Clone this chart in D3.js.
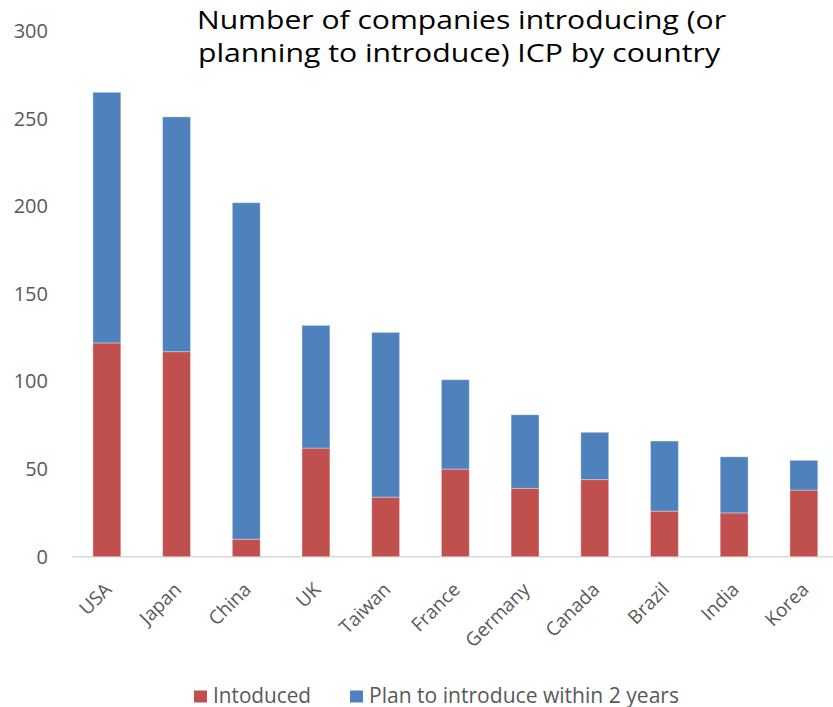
<!DOCTYPE html>
<html>
<head>
<meta charset="utf-8">
<script src="https://cdn.jsdelivr.net/npm/d3@7/dist/d3.min.js"></script>
<style>
  html, body { margin: 0; padding: 0; background: #fff; }
  svg { display: block; font-family: "Open Sans", "Noto Sans", sans-serif; }
</style>
</head>
<body>
<svg id="chart" width="833" height="707"></svg>
<script>
// Countries, in the order shown along the x axis
const categories = ["USA", "Japan", "China", "UK", "Taiwan", "France", "Germany", "Canada", "Brazil", "India", "Korea"];
// Companies that have already introduced ICP
const introduced = [122, 117, 10, 62, 34, 50, 39, 44, 26, 25, 38];
// Companies planning to introduce ICP within 2 years
const planToIntroduce = [143, 134, 192, 70, 94, 51, 42, 27, 40, 32, 17];
// Value axis ticks
const yTicks = [0, 50, 100, 150, 200, 250, 300];
// Series names
const seriesNames = ["Intoduced", "Plan to introduce within 2 years"];
const seriesColors = ["#C0504D", "#4F81BD"];
const titleLines = ["Number of companies introducing (or", "planning to introduce) ICP by country"];

const svg = d3.select("#chart");
const textColor = "#595959";

const x0 = 72, step = 69.7;
const x = d3.scaleBand()
  .domain(categories)
  .range([x0, x0 + step * categories.length])
  .paddingInner(0.6)
  .paddingOuter(0.3);

const y = d3.scaleLinear().domain([0, 300]).range([556.7, 31]);

// Stack the two series
const rows = categories.map((c, i) => ({ country: c, introduced: introduced[i], plan: planToIntroduce[i] }));
const stack = d3.stack().keys(["introduced", "plan"]);
const layers = stack(rows);

// Axis baseline
svg.append("line")
  .attr("x1", x0).attr("x2", 833)
  .attr("y1", y(0)).attr("y2", y(0))
  .attr("stroke", "#D9D9D9").attr("stroke-width", 1.5);

// Bars
svg.append("g").selectAll("g")
  .data(layers)
  .join("g")
  .attr("fill", (d, i) => seriesColors[i])
  .selectAll("rect")
  .data(d => d)
  .join("rect")
  .attr("x", d => x(d.data.country))
  .attr("width", x.bandwidth())
  .attr("y", d => y(d[1]))
  .attr("height", d => y(d[0]) - y(d[1]))
  .attr("stroke", "rgba(255,255,255,0.35)")
  .attr("stroke-width", 1);

// Value axis (left)
const yAxis = svg.append("g")
  .attr("transform", "translate(57,0)")
  .call(d3.axisLeft(y).tickValues(yTicks).tickSize(0).tickPadding(9));
yAxis.select(".domain").remove();
yAxis.selectAll("text")
  .attr("fill", textColor)
  .style("font-size", "20px")
  .style("font-family", "'Open Sans', sans-serif");

// Category axis (bottom) with rotated labels
const xAxis = svg.append("g")
  .attr("transform", `translate(0,${y(0)})`)
  .call(d3.axisBottom(x).tickSize(0));
xAxis.select(".domain").remove();
xAxis.selectAll("text")
  .attr("fill", textColor)
  .style("font-size", "19px")
  .style("font-family", "'Open Sans', sans-serif")
  .attr("text-anchor", "end")
  .attr("dy", null)
  .attr("y", 0)
  .attr("transform", "translate(6,34) rotate(-45)");

// Title, fitted to its line widths
const titleStarts = [197, 198];
const titleWidths = [529, 522];
const titleBaselines = [29, 62];
titleLines.forEach((t, i) => {
  svg.append("text")
    .attr("x", titleStarts[i]).attr("y", titleBaselines[i])
    .attr("fill", "#000")
    .attr("textLength", titleWidths[i])
    .attr("lengthAdjust", "spacingAndGlyphs")
    .style("font-size", "25.5px")
    .text(t);
});

// Legend
const legend = svg.append("g");
const legendX = [194, 350];
const legendTextW = [98, 310];
seriesNames.forEach((name, i) => {
  legend.append("rect")
    .attr("x", legendX[i]).attr("y", 690.5)
    .attr("width", 13).attr("height", 12)
    .attr("fill", seriesColors[i]);
  legend.append("text")
    .attr("x", legendX[i] + 19).attr("y", 702.5)
    .attr("fill", textColor)
    .attr("textLength", legendTextW[i])
    .attr("lengthAdjust", "spacingAndGlyphs")
    .style("font-size", "21px")
    .text(name);
});
</script>
</body>
</html>
